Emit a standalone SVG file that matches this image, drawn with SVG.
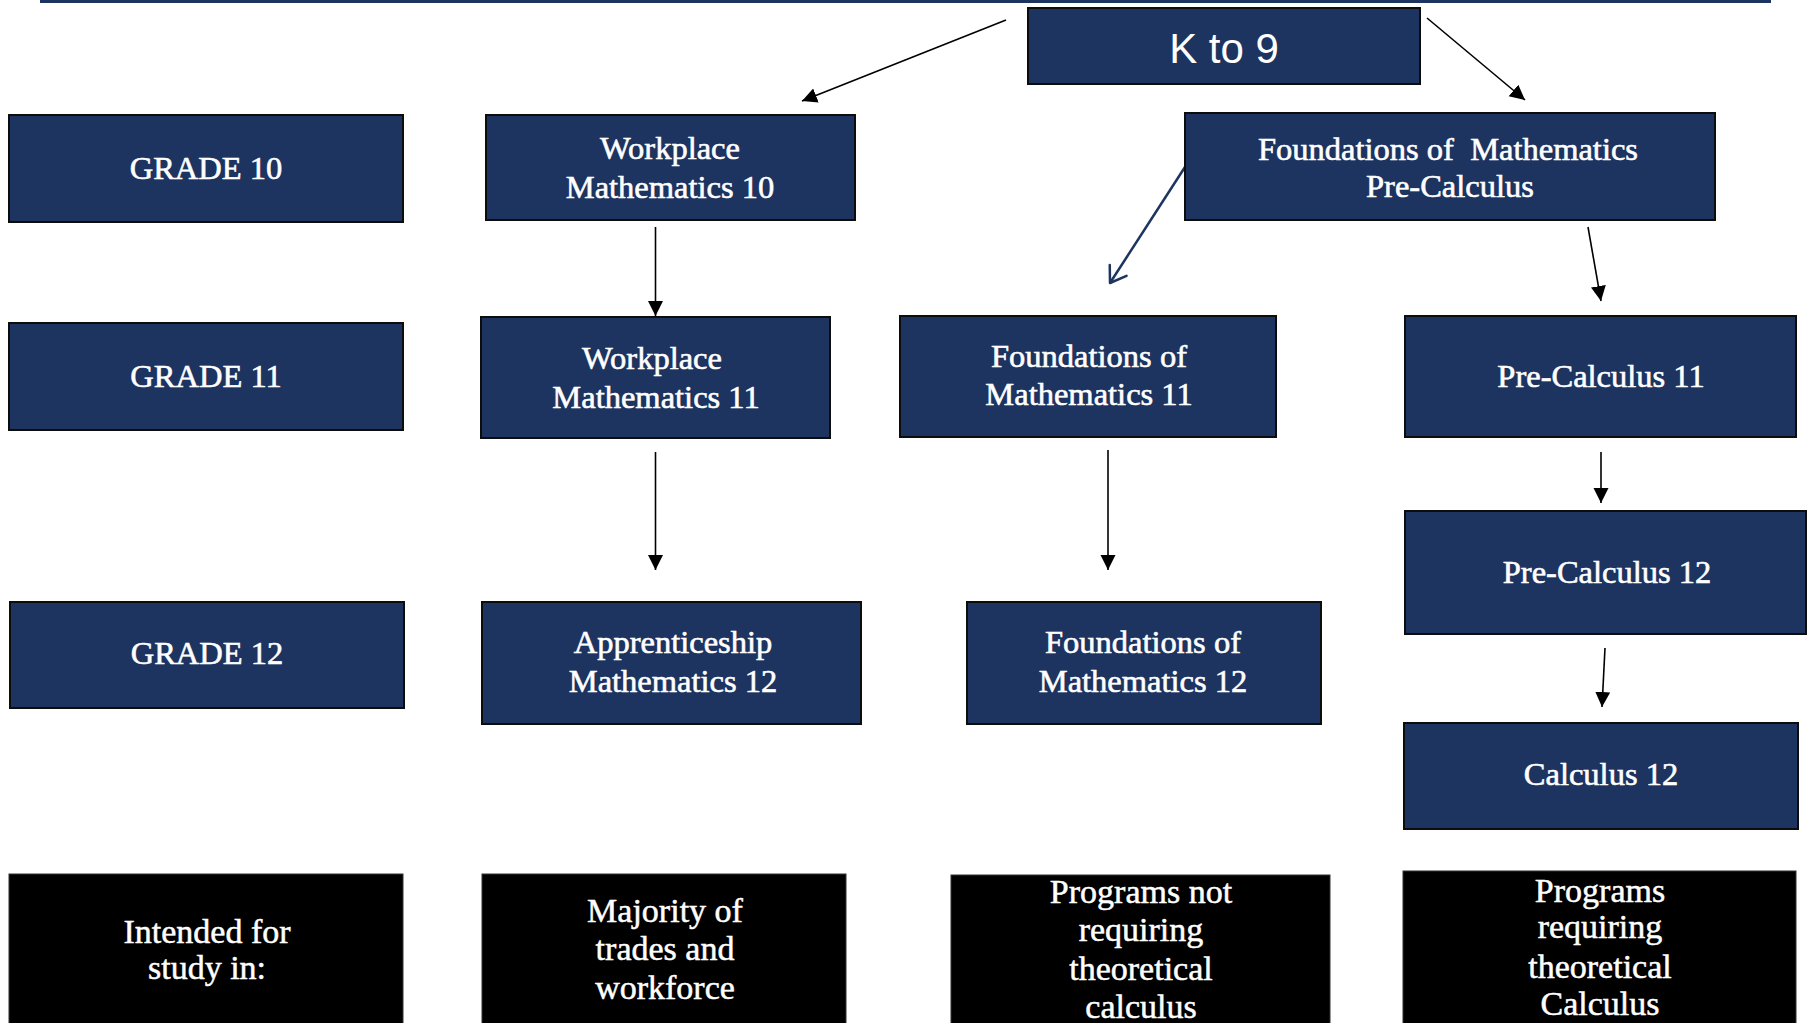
<svg xmlns="http://www.w3.org/2000/svg" width="1811" height="1023" viewBox="0 0 1811 1023">
<style>
.nb{fill:#1d3461;stroke:#0d0d0d;stroke-width:2}
.bb{fill:#000;stroke:#333;stroke-width:1}
.t{font-family:"Liberation Serif","Times New Roman",serif;font-size:32.5px;fill:#fff;stroke:#fff;stroke-width:0.6;text-anchor:middle}
.tb{font-family:"Liberation Serif","Times New Roman",serif;font-size:34px;fill:#fff;stroke:#fff;stroke-width:0.5;text-anchor:middle}
.k{font-family:"Liberation Sans",Arial,sans-serif;font-size:42px;fill:#fff;text-anchor:middle}
.c{stroke:#000;stroke-width:1.6;fill:none;marker-end:url(#ah)}
.cn{stroke:#1d3461;stroke-width:2.5;fill:none;marker-end:url(#ao)}
</style>
<defs>
<marker id="ah" markerUnits="userSpaceOnUse" markerWidth="16" markerHeight="16" refX="15" refY="7.5" orient="auto">
<path d="M0,0 L15,7.5 L0,15 z" fill="#000"/>
</marker>
<marker id="ao" markerUnits="userSpaceOnUse" markerWidth="22" markerHeight="24" refX="16" refY="11" orient="auto" overflow="visible">
<path d="M1,1 L16,11 L1,21" fill="none" stroke="#1d3461" stroke-width="2.5" stroke-linecap="round" stroke-linejoin="round"/>
</marker>
</defs>
<rect x="40" y="0" width="1731" height="3" fill="#1d3461"/>

<g id="connectors">
<line class="c" x1="1006" y1="20" x2="802" y2="101"/>
<line class="c" x1="1427" y1="18" x2="1525" y2="100"/>
<line class="cn" x1="1185" y1="167" x2="1110" y2="283"/>
<line class="c" x1="1588" y1="227" x2="1601" y2="301"/>
<line class="c" x1="655.5" y1="227" x2="655.5" y2="316"/>
<line class="c" x1="655.5" y1="452" x2="655.5" y2="570"/>
<line class="c" x1="1108" y1="450" x2="1108" y2="570"/>
<line class="c" x1="1601" y1="452" x2="1601" y2="503"/>
<line class="c" x1="1605" y1="648" x2="1602" y2="707"/>
</g>

<g id="k9"><rect class="nb" x="1028" y="8" width="392" height="76"/><text class="k" x="1224" y="63">K to 9</text></g>

<g id="grade10"><rect class="nb" x="9" y="115" width="394" height="107"/><text class="t" x="206" y="179">GRADE 10</text></g>
<g id="work10"><rect class="nb" x="486" y="115" width="369" height="105"/><text class="t" x="670" y="159">Workplace</text><text class="t" x="670" y="198">Mathematics 10</text></g>
<g id="fmpc"><rect class="nb" x="1185" y="113" width="530" height="107"/><text class="t" x="1448" y="160" xml:space="preserve">Foundations of  Mathematics</text><text class="t" x="1450" y="197">Pre-Calculus</text></g>

<g id="grade11"><rect class="nb" x="9" y="323" width="394" height="107"/><text class="t" x="206" y="387">GRADE 11</text></g>
<g id="work11"><rect class="nb" x="481" y="317" width="349" height="121"/><text class="t" x="652" y="369">Workplace</text><text class="t" x="656" y="408">Mathematics 11</text></g>
<g id="fm11"><rect class="nb" x="900" y="316" width="376" height="121"/><text class="t" x="1089" y="367">Foundations of</text><text class="t" x="1089" y="405">Mathematics 11</text></g>
<g id="pc11"><rect class="nb" x="1405" y="316" width="391" height="121"/><text class="t" x="1601" y="387">Pre-Calculus 11</text></g>

<g id="pc12"><rect class="nb" x="1405" y="511" width="401" height="123"/><text class="t" x="1607" y="583">Pre-Calculus 12</text></g>

<g id="grade12"><rect class="nb" x="10" y="602" width="394" height="106"/><text class="t" x="207" y="664">GRADE 12</text></g>
<g id="app12"><rect class="nb" x="482" y="602" width="379" height="122"/><text class="t" x="673" y="653">Apprenticeship</text><text class="t" x="673" y="692">Mathematics 12</text></g>
<g id="fm12"><rect class="nb" x="967" y="602" width="354" height="122"/><text class="t" x="1143" y="653">Foundations of</text><text class="t" x="1143" y="692">Mathematics 12</text></g>

<g id="calc12"><rect class="nb" x="1404" y="723" width="394" height="106"/><text class="t" x="1601" y="785">Calculus 12</text></g>

<g id="intended"><rect class="bb" x="9" y="874" width="394" height="160"/><text class="tb" x="207" y="943">Intended for</text><text class="tb" x="207" y="979">study in:</text></g>
<g id="majority"><rect class="bb" x="482" y="874" width="364" height="160"/><text class="tb" x="665" y="922">Majority of</text><text class="tb" x="665" y="960">trades and</text><text class="tb" x="665" y="999">workforce</text></g>
<g id="notcalc"><rect class="bb" x="951" y="875" width="379" height="160"/><text class="tb" x="1141" y="903">Programs not</text><text class="tb" x="1141" y="941">requiring</text><text class="tb" x="1141" y="980">theoretical</text><text class="tb" x="1141" y="1018">calculus</text></g>
<g id="reqcalc"><rect class="bb" x="1403" y="871" width="393" height="160"/><text class="tb" x="1600" y="902">Programs</text><text class="tb" x="1600" y="938">requiring</text><text class="tb" x="1600" y="978">theoretical</text><text class="tb" x="1600" y="1015">Calculus</text></g>
</svg>
